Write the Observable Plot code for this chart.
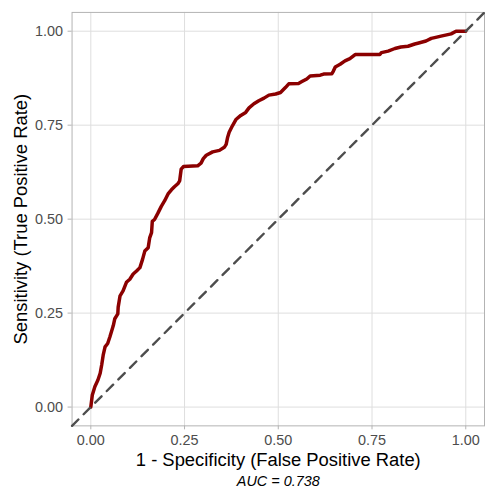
<!DOCTYPE html>
<html><head><meta charset="utf-8">
<script src="https://cdn.jsdelivr.net/npm/d3@7"></script>
<script src="https://cdn.jsdelivr.net/npm/@observablehq/plot@0.6"></script>
<style>html,body{margin:0;padding:0;overflow:hidden;background:#fff}</style>
</head><body><div id="chart"></div>
<script>
// ROC curve points
const fpr = [0, 0.004, 0.011, 0.019, 0.025, 0.029, 0.033, 0.038, 0.045, 0.051, 0.060, 0.064, 0.072, 0.073, 0.078, 0.086, 0.095, 0.104, 0.113, 0.122, 0.131, 0.138, 0.144, 0.153, 0.157, 0.162, 0.164, 0.170, 0.179, 0.188, 0.197, 0.206, 0.215, 0.223, 0.232, 0.237, 0.241, 0.247, 0.285, 0.294, 0.300, 0.308, 0.325, 0.343, 0.356, 0.361, 0.365, 0.369, 0.378, 0.387, 0.400, 0.413, 0.422, 0.435, 0.448, 0.462, 0.475, 0.493, 0.506, 0.519, 0.528, 0.554, 0.563, 0.576, 0.585, 0.612, 0.621, 0.643, 0.647, 0.652, 0.665, 0.678, 0.691, 0.705, 0.771, 0.775, 0.793, 0.811, 0.827, 0.846, 0.864, 0.872, 0.894, 0.908, 0.917, 0.934, 0.943, 0.961, 0.974, 1.0];
const tpr = [0, 0.032, 0.055, 0.072, 0.090, 0.112, 0.138, 0.160, 0.169, 0.187, 0.217, 0.235, 0.248, 0.266, 0.296, 0.309, 0.332, 0.340, 0.354, 0.362, 0.371, 0.393, 0.415, 0.424, 0.450, 0.464, 0.494, 0.499, 0.516, 0.534, 0.549, 0.567, 0.578, 0.586, 0.594, 0.602, 0.633, 0.640, 0.642, 0.649, 0.661, 0.670, 0.679, 0.683, 0.691, 0.699, 0.718, 0.731, 0.749, 0.765, 0.776, 0.784, 0.796, 0.807, 0.815, 0.822, 0.830, 0.833, 0.837, 0.850, 0.860, 0.861, 0.866, 0.873, 0.881, 0.883, 0.886, 0.887, 0.894, 0.905, 0.912, 0.921, 0.927, 0.938, 0.938, 0.943, 0.947, 0.954, 0.958, 0.960, 0.966, 0.968, 0.974, 0.981, 0.983, 0.987, 0.989, 0.993, 1.0, 1.0];
const ticks = [0, 0.25, 0.5, 0.75, 1];
const axisDomain = [-0.05, 1.05];
const xTitle = "1 - Specificity (False Positive Rate)";
const yTitle = "Sensitivity (True Positive Rate)";
const aucLabel = "AUC = 0.738";

const roc = fpr.map((f, i) => ({fpr: f, tpr: tpr[i]}));
const diag = axisDomain.map(v => ({v}));

const chart = Plot.plot({
  width: 488, height: 492,
  marginLeft: 72, marginRight: 1, marginTop: 12, marginBottom: 64,
  style: {fontFamily: "'Liberation Sans', Arial, sans-serif", background: "#fff"},
  x: {domain: axisDomain},
  y: {domain: axisDomain},
  marks: [
    Plot.gridX(ticks, {stroke: "#dedede", strokeOpacity: 1, strokeWidth: 1}),
    Plot.gridY(ticks, {stroke: "#dedede", strokeOpacity: 1, strokeWidth: 1}),
    Plot.frame({stroke: "#b3b3b3", strokeWidth: 1}),
    Plot.axisX(ticks, {tickSize: 4, tickPadding: 4.5, tickFormat: d3.format(".2f"), stroke: "#b3b3b3", fill: "#4d4d4d", fontSize: 14.5, label: null}),
    Plot.axisY(ticks, {tickSize: 4, tickPadding: 5, tickFormat: d3.format(".2f"), stroke: "#b3b3b3", fill: "#4d4d4d", fontSize: 14.5, label: null}),
    Plot.line(roc, {x: "fpr", y: "tpr", stroke: "#8b0000", strokeWidth: 3.5, strokeLinejoin: "round", strokeLinecap: "round"}),
    Plot.line(diag, {x: "v", y: "v", stroke: "#4d4d4d", strokeWidth: 2.4, strokeDasharray: "9,7.5"}),
    Plot.text([xTitle], {text: d => d, frameAnchor: "bottom", dy: 27, lineAnchor: "top", fontSize: 18.5, fill: "#000"}),
    Plot.text([yTitle], {text: d => d, frameAnchor: "left", textAnchor: "middle", dx: -45.5, rotate: -90, lineAnchor: "bottom", fontSize: 18.5, fill: "#000"}),
    Plot.text([aucLabel], {text: d => d, frameAnchor: "bottom", dy: 50, lineAnchor: "top", fontSize: 14.5, fontStyle: "italic", fill: "#000"})
  ]
});
document.getElementById("chart").appendChild(chart);
</script>
</body></html>
